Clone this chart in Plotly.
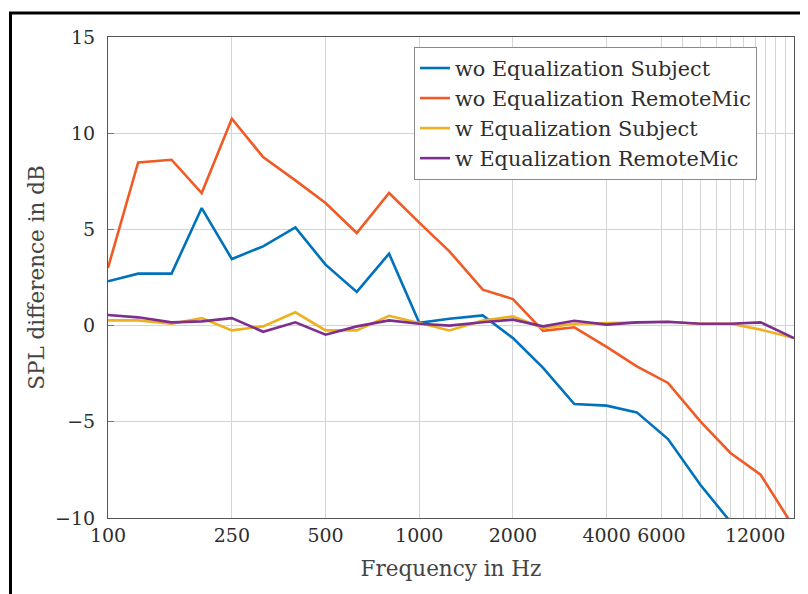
import plotly.graph_objects as go

# Third-octave centre frequencies (Hz)
freqs = [100, 125, 160, 200, 250, 315, 400, 500, 630, 800, 1000, 1250, 1600,
         2000, 2500, 3150, 4000, 5000, 6300, 8000, 10000, 12500, 16000]

wo_eq_subject = [2.30, 2.70, 2.70, 6.11, 3.46, 4.12, 5.10, 3.17, 1.75, 3.74, 0.15,
                 0.36, 0.53, -0.65, -2.20, -4.08, -4.16, -4.51, -5.90, -8.27, -10.2,
                 None, None]
wo_eq_remote = [3.0, 8.48, 8.62, 6.89, 10.75, 8.76, 7.55, 6.37, 4.81, 6.89, 5.35,
                3.86, 1.87, 1.38, -0.27, -0.09, -1.11, -2.12, -2.98, -4.98, -6.62,
                -7.75, -10.5]
w_eq_subject = [0.27, 0.27, 0.10, 0.39, -0.25, -0.04, 0.69, -0.25, -0.25, 0.51, 0.13,
                -0.25, 0.27, 0.48, -0.13, 0.10, 0.13, 0.16, 0.19, 0.10, 0.10,
                -0.21, -0.65]
w_eq_remote = [0.55, 0.43, 0.17, 0.22, 0.39, -0.32, 0.17, -0.47, -0.04, 0.27, 0.10,
               0.00, 0.17, 0.31, -0.04, 0.25, 0.05, 0.17, 0.20, 0.10, 0.10,
               0.17, -0.65]

series_names = ["wo Equalization Subject", "wo Equalization RemoteMic",
                "w Equalization Subject", "w Equalization RemoteMic"]
series_values = [wo_eq_subject, wo_eq_remote, w_eq_subject, w_eq_remote]
series_colors = ["#0072BD", "#F05A24", "#EDB120", "#7E2F8E"]

x_tickvals = [100, 250, 500, 1000, 2000, 4000, 6000, 7000, 8000, 9000, 10000,
              11000, 12000, 13000, 14000, 15000, 16000]
x_ticklabels = {100: "100", 250: "250", 500: "500", 1000: "1000", 2000: "2000",
                4000: "4000", 6000: "6000", 12000: "12000"}
y_tickvals = [-10, -5, 0, 5, 10, 15]

FONT = "DejaVu Serif"
TXT = "#2e2e2e"

fig = go.Figure()
for name, vals, col in zip(series_names, series_values, series_colors):
    fig.add_trace(go.Scatter(x=freqs, y=vals, mode="lines", name=name,
                             line=dict(color=col, width=2.6)))

# page has an 8px body margin: figure coords = screen coords - 8
W, H = 800, 586
L, R, T, B = 100, 786, 29, 510
def px(xpix):
    return (xpix - 8 - L) / (R - L)
def py(ypix):
    return (B - (ypix - 8)) / (B - T)

fig.add_shape(type="line", xref="paper", yref="paper",
              x0=px(9), x1=px(830), y0=py(13), y1=py(13),
              line=dict(color="black", width=3))
fig.add_shape(type="line", xref="paper", yref="paper",
              x0=px(10.5), x1=px(10.5), y0=py(12), y1=py(610),
              line=dict(color="black", width=3))

fig.update_layout(
    width=W, height=H,
    margin=dict(l=L, r=W - R, t=T, b=H - B),
    paper_bgcolor="white", plot_bgcolor="white",
    font=dict(family=FONT, color=TXT, size=19),
    showlegend=True,
    legend=dict(x=px(414), y=py(47), xanchor="left", yanchor="top",
                bgcolor="white", bordercolor="#8a8a8a", borderwidth=1,
                font=dict(family=FONT, size=20.8, color=TXT),
                tracegroupgap=0),
    xaxis=dict(type="log", range=[2, 4.20412],
               tickmode="array", tickvals=x_tickvals,
               ticktext=[x_ticklabels.get(v, "") for v in x_tickvals],
               showgrid=True, gridcolor="#d4d4d4", gridwidth=1,
               showline=True, linecolor="#555555", linewidth=1, mirror=True,
               ticks="", zeroline=False,
               tickfont=dict(family=FONT, size=19, color=TXT),
               title=dict(text="Frequency in Hz", standoff=16,
                          font=dict(family=FONT, size=21.5, color="#444444"))),
    yaxis=dict(range=[-10, 15], tickmode="array", tickvals=y_tickvals,
               showgrid=True, gridcolor="#d4d4d4", gridwidth=1,
               showline=True, linecolor="#555555", linewidth=1, mirror=True,
               ticks="inside", ticklen=6, tickcolor="#777777",
               zeroline=False, ticklabelstandoff=8,
               tickfont=dict(family=FONT, size=19, color=TXT),
               title=dict(text="SPL difference in dB", standoff=4,
                          font=dict(family=FONT, size=21.5, color="#444444"))),
)

fig.write_html("out.html")
